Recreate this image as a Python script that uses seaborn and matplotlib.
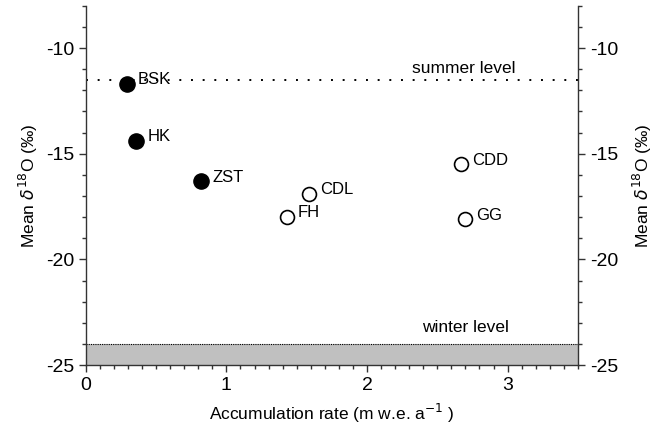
import pandas as pd
import matplotlib.pyplot as plt
import seaborn as sns
from matplotlib.ticker import MultipleLocator

# Datos
sites = ["BSK", "HK", "ZST", "CDL", "FH", "CDD", "GG"]
accumulation = [0.29, 0.36, 0.82, 1.59, 1.43, 2.67, 2.70]
d18o = [-11.7, -14.4, -16.3, -16.9, -18.0, -15.5, -18.1]
filled = [True, True, True, False, False, False, False]

summer_level = -11.5
winter_level = -24.0

df = pd.DataFrame({"site": sites, "acc": accumulation, "d18o": d18o, "filled": filled})

sns.set_style("ticks")
plt.rcParams["font.family"] = ["Liberation Sans", "DejaVu Sans"]
plt.rcParams["axes.unicode_minus"] = False
plt.rcParams["text.color"] = "black"
plt.rcParams["axes.labelcolor"] = "black"
plt.rcParams["xtick.color"] = "#333333"
plt.rcParams["ytick.color"] = "#333333"
plt.rcParams["xtick.labelcolor"] = "black"
plt.rcParams["ytick.labelcolor"] = "black"

fig = plt.figure(figsize=(6.65, 4.42), dpi=100)
ax = fig.add_axes([0.129, 0.174, 0.740, 0.813])

# Nivel de invierno (zona gris) y nivel de verano
ax.axhspan(-25, winter_level, color="#c0c0c0", lw=0, zorder=0)
ax.axhline(winter_level, color="black", lw=0.8, ls=(0, (1, 1)), zorder=1)
ax.axhline(summer_level, color="black", lw=1.4, ls=(0, (1, 5)), zorder=1)

sns.scatterplot(data=df[df["filled"]], x="acc", y="d18o", ax=ax,
                color="black", edgecolor="black", s=120, linewidth=1, zorder=3)
sns.scatterplot(data=df[~df["filled"]], x="acc", y="d18o", ax=ax,
                facecolor="white", edgecolor="black", s=100, linewidth=1.2, zorder=3)

for _, row in df.iterrows():
    ax.annotate(row["site"], (row["acc"], row["d18o"]), xytext=(8, 3),
                textcoords="offset points", ha="left", va="center", fontsize=12)

ax.text(2.69, -10.95, "summer level", ha="center", va="center", fontsize=12.5)
ax.text(2.70, -23.2, "winter level", ha="center", va="center", fontsize=12.5)

ax.set_xlim(0, 3.5)
ax.set_ylim(-25, -8)
ax.xaxis.set_major_locator(MultipleLocator(1))
ax.xaxis.set_minor_locator(MultipleLocator(0.1))
ax.yaxis.set_major_locator(MultipleLocator(5))
ax.yaxis.set_minor_locator(MultipleLocator(1))
ax.tick_params(which="major", length=5, width=1, labelsize=14)
ax.tick_params(which="minor", length=3, width=1)
ax.tick_params(axis="y", which="both", right=True, labelright=True)

ylabel = "Mean $\\delta^{18}$O (‰)"
ax.set_xlabel("Accumulation rate (m w.e. a$^{-1}$ )", fontsize=12.5, labelpad=6)
ax.set_ylabel(ylabel, fontsize=12.5, labelpad=4)
ax2 = ax.secondary_yaxis("right")
ax2.set_yticks([])
ax2.spines["right"].set_visible(False)
ax2.set_ylabel(ylabel, fontsize=12.5, labelpad=38)

ax.spines["top"].set_visible(False)
for s in ["left", "right", "bottom"]:
    ax.spines[s].set_linewidth(1)
    ax.spines[s].set_color("#333333")

fig.savefig("out.png", dpi=100)
